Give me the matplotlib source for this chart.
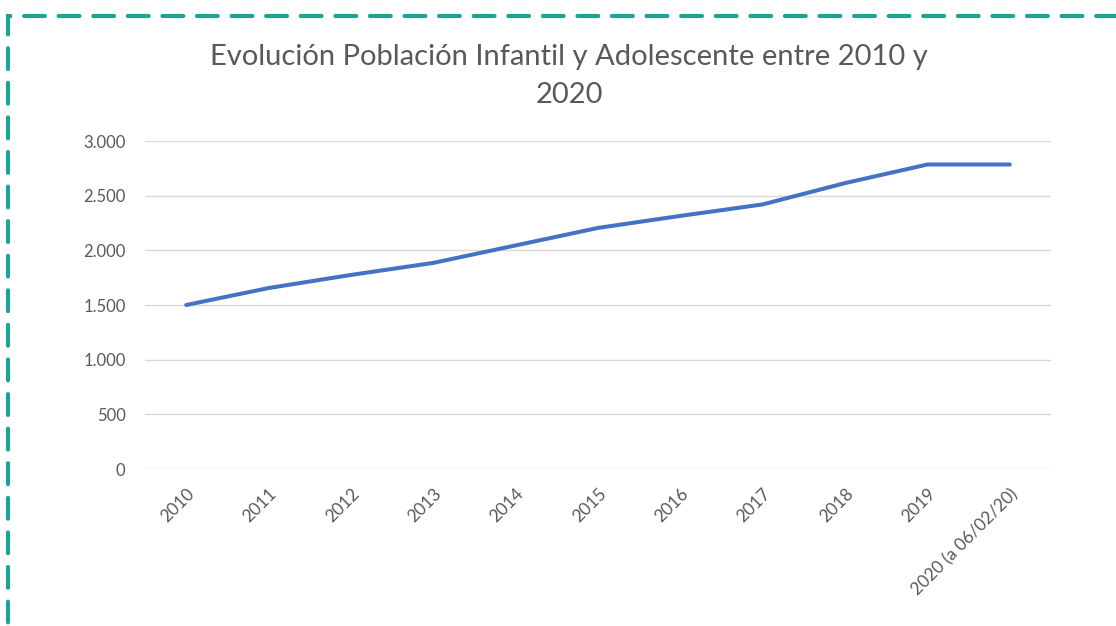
import matplotlib
matplotlib.use("Agg")
import matplotlib.pyplot as plt
from matplotlib.patches import Rectangle
from matplotlib.ticker import FuncFormatter

categories = ["2010", "2011", "2012", "2013", "2014", "2015", "2016",
              "2017", "2018", "2019", "2020 (a 06/02/20)"]
values = [1500, 1655, 1775, 1885, 2045, 2205, 2315, 2420, 2615, 2785, 2785]
y_ticks = [0, 500, 1000, 1500, 2000, 2500, 3000]

plt.rcParams['font.family'] = ['Lato', 'DejaVu Sans']

fig = plt.figure(figsize=(11.16, 6.26), dpi=100)
fig.patch.set_facecolor('white')

# dashed teal frame
frame = Rectangle((8 / 1116, -0.2), 1.2, 1 - 16 / 626 + 0.2,
                  transform=fig.transFigure, fill=False,
                  edgecolor='#1BA393', linewidth=3.0,
                  linestyle=(0, (5, 3.3)), capstyle='round', clip_on=False)
fig.patches.append(frame)

ax = fig.add_axes([145 / 1116, 1 - 469 / 626, (1051 - 145) / 1116, (469 - 141) / 626])
x = list(range(len(categories)))
ax.plot(x, values, color='#4472C4', linewidth=2.9, solid_capstyle='round',
        solid_joinstyle='round', zorder=3)

ax.set_xlim(-0.5, len(categories) - 0.5)
ax.set_ylim(0, 3000)
ax.set_yticks(y_ticks)
ax.yaxis.set_major_formatter(FuncFormatter(lambda v, p: f"{int(v):,}".replace(",", ".")))
ax.set_xticks(x)
ax.set_xticklabels(categories, rotation=45, ha='right', rotation_mode='anchor')

ax.grid(axis='y', color='#D9D9D9', linewidth=1.0)
ax.set_axisbelow(True)
for s in ax.spines.values():
    s.set_visible(False)
ax.tick_params(axis='both', length=0, colors='#595959')
ax.tick_params(axis='y', pad=14, labelsize=12)
ax.tick_params(axis='x', pad=12, labelsize=12.5)

fig.text(0.510, 1 - 57 / 626, "Evolución Población Infantil y Adolescente entre 2010 y",
         ha='center', va='center', fontsize=21, color='#595959')
fig.text(0.510, 1 - 95 / 626, "2020", ha='center', va='center', fontsize=21, color='#595959')

fig.savefig("out.png", dpi=100)
